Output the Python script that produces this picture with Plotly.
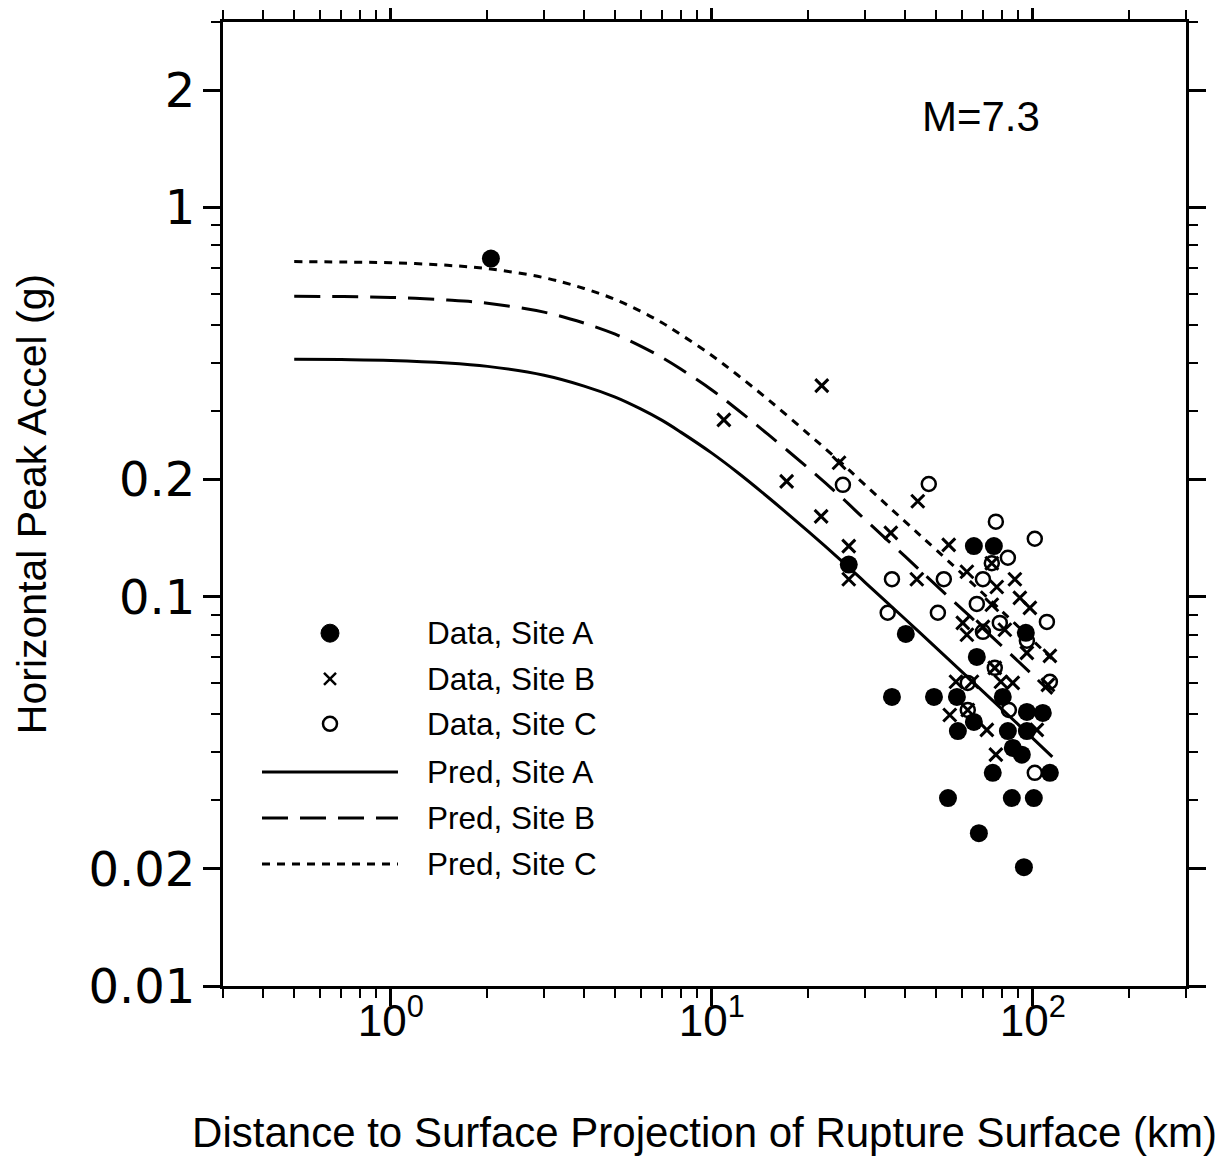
import plotly.graph_objects as go

# --- Données ----------------------------------------------------------------
# Données, site A (cercles pleins) : distance (km), accélération (g)
dist_a = [2.05, 26.7, 40.2, 36.4, 49.2, 58.0, 58.4, 65.5, 80.6, 83.6, 95.8,
          107.4, 95.8, 86.6, 92.4, 75.0, 113.0, 54.4, 86.0, 100.7, 67.9,
          93.8, 65.5, 75.6, 66.9, 95.1]
pga_a = [0.740, 0.121, 0.0803, 0.0553, 0.0553, 0.0553, 0.0452, 0.0477, 0.0553,
         0.0452, 0.0506, 0.0503, 0.0452, 0.0409, 0.0393, 0.0353, 0.0353, 0.0304,
         0.0304, 0.0304, 0.0247, 0.0202, 0.135, 0.135, 0.0701, 0.0808]

# Données, site B (croix)
dist_b = [10.9, 22.0, 24.9, 17.1, 21.9, 26.7, 26.7, 36.1, 43.8, 43.5, 54.7,
          62.3, 74.5, 87.9, 77.2, 91.1, 97.9, 74.5, 60.5, 62.3, 69.9, 81.8,
          95.8, 113.0, 57.6, 64.6, 79.5, 86.6, 55.1, 71.9, 102.9, 76.7, 111.4,
          76.1, 62.7]
pga_b = [0.285, 0.349, 0.221, 0.198, 0.161, 0.135, 0.111, 0.146, 0.176, 0.111,
         0.136, 0.116, 0.122, 0.111, 0.106, 0.0994, 0.0937, 0.0954, 0.0857,
         0.0799, 0.0837, 0.0823, 0.0718, 0.0705, 0.0605, 0.0605, 0.0605,
         0.0601, 0.0497, 0.0455, 0.0455, 0.0393, 0.0594, 0.0657, 0.0512]

# Données, site C (cercles vides)
dist_c = [25.6, 47.4, 36.4, 35.3, 50.6, 52.8, 76.7, 101.4, 83.6, 74.5, 69.9,
          66.9, 78.9, 69.9, 110.6, 95.8, 76.1, 62.7, 113.0, 62.7, 84.2, 101.4]
pga_c = [0.194, 0.195, 0.111, 0.091, 0.091, 0.111, 0.156, 0.141, 0.126, 0.122,
         0.111, 0.0959, 0.0857, 0.0813, 0.0862, 0.0771, 0.0657, 0.0601, 0.0605,
         0.0512, 0.0512, 0.0353]

# Courbes prédites (lues le long des traits)
dist_pred = [0.5, 0.7, 1, 1.5, 2, 3, 4, 5, 6, 7, 8, 10, 12, 15, 20, 25, 30,
             40, 50, 70, 100, 115]
pred_a = [0.408, 0.407, 0.405, 0.399, 0.391, 0.371, 0.348, 0.326, 0.304, 0.284,
          0.265, 0.234, 0.209, 0.180, 0.147, 0.125, 0.109, 0.0877, 0.0739,
          0.0571, 0.0433, 0.0388]
pred_b = [0.592, 0.591, 0.588, 0.579, 0.568, 0.539, 0.505, 0.473, 0.441, 0.412,
          0.385, 0.340, 0.303, 0.261, 0.214, 0.182, 0.158, 0.127, 0.107,
          0.0829, 0.0629, 0.0563]
pred_c = [0.727, 0.725, 0.722, 0.711, 0.697, 0.661, 0.620, 0.581, 0.542, 0.506,
          0.472, 0.417, 0.372, 0.321, 0.262, 0.223, 0.194, 0.156, 0.132, 0.102,
          0.0772, 0.0691]

x_ticks = [1, 10, 100]
x_labels = ["10<sup>0</sup>", "10<sup>1</sup>", "10<sup>2</sup>"]
x_minor = [0.3, 0.4, 0.5, 0.6, 0.7, 0.8, 0.9, 2, 3, 4, 5, 6, 7, 8, 9,
           20, 30, 40, 50, 60, 70, 80, 90, 200, 300]
y_ticks = [0.01, 0.02, 0.1, 0.2, 1, 2]
y_labels = ["0.01", "0.02", "0.1", "0.2", "1", "2"]
y_minor = [0.03, 0.04, 0.05, 0.06, 0.07, 0.08, 0.09,
           0.3, 0.4, 0.5, 0.6, 0.7, 0.8, 0.9, 3]

legend_labels = ["Data, Site A", "Data, Site B", "Data, Site C",
                 "Pred, Site A", "Pred, Site B", "Pred, Site C"]

FONT = "Liberation Sans, Arial, Helvetica, sans-serif"
TICKFONT = "DejaVu Sans, Liberation Sans, sans-serif"
DASH_B = "26px,12px"
DASH_C = "8px,7px"

fig = go.Figure()
for y, dash in [(pred_a, "solid"), (pred_b, DASH_B), (pred_c, DASH_C)]:
    fig.add_trace(go.Scatter(x=dist_pred, y=y, mode="lines", showlegend=False,
                             line=dict(color="black", width=3, dash=dash,
                                       shape="spline")))

fig.add_trace(go.Scatter(x=dist_c, y=pga_c, mode="markers", showlegend=False,
                         marker=dict(symbol="circle-open", size=14, color="black",
                                     line=dict(width=2.5, color="black"))))
fig.add_trace(go.Scatter(x=dist_b, y=pga_b, mode="markers", showlegend=False,
                         marker=dict(symbol="x-thin", size=13, color="black",
                                     line=dict(width=3, color="black"))))
fig.add_trace(go.Scatter(x=dist_a, y=pga_a, mode="markers", showlegend=False,
                         marker=dict(symbol="circle", size=18, color="black")))

# --- Légende dessinée à la main (traits longs comme l'original) ---------------
rows = [0.366, 0.3185, 0.272, 0.222, 0.1743, 0.1266]
mx, lx0, lx1, tx = 0.1111, 0.0405, 0.1817, 0.2098
shapes = []
sym = dict(type="circle", xref="paper", yref="paper", xsizemode="pixel",
           ysizemode="pixel", xanchor=mx)
shapes.append(dict(sym, yanchor=rows[0], x0=-9, x1=9, y0=-9, y1=9,
                   fillcolor="black", line=dict(color="black", width=1)))
for a, b in [(-6, 6), (6, -6)]:
    shapes.append(dict(type="line", xref="paper", yref="paper", xsizemode="pixel",
                       ysizemode="pixel", xanchor=mx, yanchor=rows[1],
                       x0=-6, x1=6, y0=a, y1=b, line=dict(color="black", width=2.5)))
shapes.append(dict(sym, yanchor=rows[2], x0=-7, x1=7, y0=-7, y1=7,
                   line=dict(color="black", width=2.5)))
for r, dash in zip(rows[3:], ["solid", DASH_B, DASH_C]):
    shapes.append(dict(type="line", xref="paper", yref="paper", x0=lx0, x1=lx1,
                       y0=r, y1=r, line=dict(color="black", width=3, dash=dash)))

annotations = [dict(xref="paper", yref="paper", x=tx, y=r, text=t,
                    showarrow=False, xanchor="left", yanchor="middle",
                    font=dict(size=31.5, color="black", family=FONT))
               for r, t in zip(rows, legend_labels)]
annotations.append(dict(xref="paper", yref="paper", x=0.787, y=0.9015,
                        text="M=7.3", showarrow=False, xanchor="center",
                        yanchor="middle",
                        font=dict(size=42, color="black", family=FONT)))

axis_common = dict(showline=True, linewidth=3, linecolor="black", mirror="ticks",
                   ticks="outside", ticklen=17, tickwidth=2.5, tickcolor="black",
                   showgrid=False, zeroline=False, automargin=False)

# la page HTML ajoute une marge de 8 px : on en tient compte ici
fig.update_layout(
    width=1217, height=1148,
    margin=dict(l=215, r=39, t=14, b=170),
    paper_bgcolor="white", plot_bgcolor="white",
    font=dict(family=FONT, color="black"),
    shapes=shapes, annotations=annotations,
    xaxis=dict(axis_common, type="log", range=[-0.5229, 2.4771],
               tickvals=x_ticks, ticktext=x_labels, ticklabelstandoff=-23,
               tickfont=dict(size=44, family=FONT),
               minor=dict(tickvals=x_minor, ticks="outside", ticklen=9,
                          tickwidth=2, tickcolor="black"),
               title=dict(text="Distance to Surface Projection of Rupture Surface (km)",
                          font=dict(size=42, family=FONT), standoff=74)),
    yaxis=dict(axis_common, type="log", range=[-2, 0.4771],
               tickvals=y_ticks, ticktext=y_labels, ticklabelstandoff=-2,
               tickfont=dict(size=48, family=TICKFONT),
               minor=dict(tickvals=y_minor, ticks="outside", ticklen=9,
                          tickwidth=2, tickcolor="black"),
               title=dict(text="Horizontal Peak Accel (g)",
                          font=dict(size=41, family=FONT), standoff=30)),
)

fig.write_html("out.html")
